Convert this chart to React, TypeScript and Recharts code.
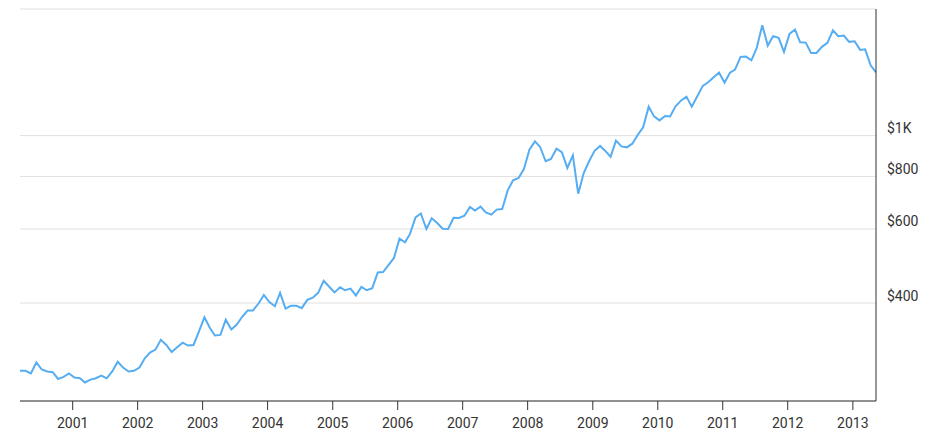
import React from 'react';
import { LineChart, Line, XAxis, YAxis, CartesianGrid } from 'recharts';

// Monthly prices, starting March 2000, ending May 2013
const START_YEAR = 2000;
const START_MONTH = 2; // March (0-based)
const prices: number[] = [
  276, 276, 272, 289, 278, 275, 274, 264, 267, 272,
  266, 265, 259, 263, 265, 269, 265, 275, 290, 281,
  275, 276, 281, 296, 305, 310, 327, 318, 306, 314,
  322, 317, 318, 342, 370, 349, 335, 336, 365, 346,
  355, 371, 384, 384, 399, 418, 402, 393, 423, 388,
  394, 394, 389, 407, 412, 423, 452, 438, 424, 436,
  429, 433, 417, 437, 429, 434, 473, 474, 493, 512,
  569, 558, 584, 639, 653, 600, 636, 620, 601, 600,
  638, 637, 645, 677, 664, 678, 657, 649, 667, 669,
  741, 783, 793, 833, 926, 969, 940, 869, 880, 931,
  913, 838, 898, 728, 815, 869, 920, 945, 921, 891,
  973, 943, 938, 957, 1005, 1047, 1172, 1111, 1087, 1114,
  1111, 1174, 1211, 1238, 1172, 1240, 1313, 1339, 1376, 1412,
  1337, 1412, 1435, 1539, 1541, 1510, 1617, 1830, 1637, 1723,
  1708, 1582, 1745, 1787, 1667, 1664, 1573, 1573, 1626, 1662,
  1780, 1723, 1729, 1671, 1676, 1599, 1604, 1470, 1414,
];
const yearTicks: number[] = [2001, 2002, 2003, 2004, 2005, 2006, 2007, 2008, 2009, 2010, 2011, 2012, 2013];
const priceTicks: number[] = [400, 600, 800, 1000, 2000];
const hiddenPriceLabels: number[] = [2000];

const data = prices.map((price, i) => ({
  t: Date.UTC(START_YEAR, START_MONTH + i, 11),
  price,
}));
const xTicks = yearTicks.map((y) => Date.UTC(y, 0, 1));

const fmtPrice = (v: number) => (v >= 1000 ? `$${v / 1000}K` : `$${v}`);

const PriceTick = (props: any) => {
  const { x, y, payload } = props;
  if (hiddenPriceLabels.includes(payload.value)) return null;
  return (
    <text x={x} y={y - 2.5} fill="#333" fontSize={14} fontFamily="Roboto" textAnchor="start">
      {fmtPrice(payload.value)}
    </text>
  );
};

export default function App() {
  return (
    <div style={{ width: 919, height: 429, fontFamily: 'Roboto' }}>
      <LineChart width={919} height={429} data={data} margin={{ top: 1, right: 0, bottom: 6, left: 12 }}>
        <CartesianGrid vertical={false} stroke="#e0e0e0" />
        <XAxis
          dataKey="t"
          type="number"
          scale="time"
          domain={['dataMin', 'dataMax']}
          ticks={xTicks}
          tickFormatter={(t: number) => String(new Date(t).getUTCFullYear())}
          axisLine={{ stroke: '#333' }}
          tickLine={{ stroke: '#333' }}
          tickSize={9}
          tickMargin={8}
          tick={{ fill: '#333', fontSize: 14, fontFamily: 'Roboto' }}
          height={30}
          interval={0}
        />
        <YAxis
          orientation="right"
          scale="log"
          domain={[234, 2000]}
          allowDataOverflow
          ticks={priceTicks}
          interval={0}
          axisLine={{ stroke: '#333' }}
          tickLine={false}
          tickSize={6}
          tickMargin={5}
          tick={<PriceTick />}
          width={51}
        />
        <Line
          type="linear"
          dataKey="price"
          stroke="#56adf2"
          strokeWidth={2}
          dot={false}
          isAnimationActive={false}
        />
      </LineChart>
    </div>
  );
}
